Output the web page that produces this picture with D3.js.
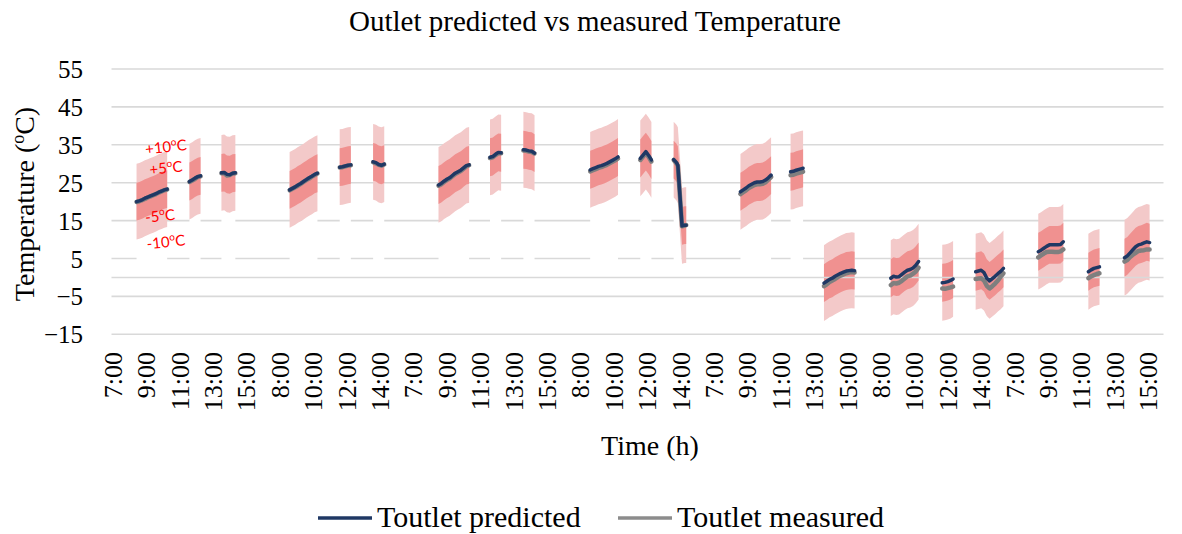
<!DOCTYPE html>
<html>
<head>
<meta charset="utf-8">
<script src="https://cdn.jsdelivr.net/npm/d3@7"></script>
<style>
  body { margin: 0; background: #fff; }
</style>
</head>
<body>
<svg id="chart" width="1182" height="534"></svg>
<script>
// Test sessions: day index (0-6) and sample times within that day
const sessionDay = [0, 0, 0, 1, 1, 1, 2, 2, 2, 3, 3, 3, 4, 4, 4, 5, 5, 5, 6, 6, 6];

const sessionTimes = [
  ["8:30","8:40","8:50","9:00","9:10","9:20","9:30","9:40","9:50","10:00","10:10","10:20"],
  ["11:40","11:50","12:00","12:10","12:20"],
  ["13:35","13:45","13:55","14:05","14:15","14:25"],
  ["8:40","8:50","9:00","9:10","9:20","9:30","9:40","9:50","10:00","10:10","10:20"],
  ["11:40","11:50","12:00","12:10","12:20"],
  ["13:40","13:50","14:00","14:10","14:20"],
  ["8:35","8:45","8:55","9:05","9:15","9:25","9:35","9:45","9:55","10:05","10:15","10:25"],
  ["11:40","11:50","12:00","12:10","12:20"],
  ["13:40","13:50","14:00","14:10","14:20"],
  ["8:40","8:50","9:00","9:10","9:20","9:30","9:40","9:50","10:00","10:10","10:20"],
  ["11:40","11:50","12:00","12:10","12:20"],
  ["13:40","13:50","13:55","14:10","14:20","14:25"],
  ["8:40","8:50","9:00","9:10","9:20","9:30","9:40","9:50","10:00","10:10","10:20","10:30"],
  ["11:40","11:50","12:00","12:10","12:20","12:25"],
  ["13:40","13:50","14:00","14:10","14:20","14:30","14:40","14:50","15:00","15:10","15:20","15:30"],
  ["8:40","8:50","9:00","9:10","9:20","9:30","9:40","9:50","10:00","10:10","10:20"],
  ["11:45","11:55","12:05","12:15","12:24"],
  ["13:45","13:55","14:05","14:15","14:25","14:35","14:45","14:55","15:05","15:15","15:25"],
  ["8:30","8:40","8:50","9:00","9:10","9:20","9:30","9:40","9:50","10:00"],
  ["11:30","11:40","11:50","12:00","12:10"],
  ["13:40","13:50","14:00","14:10","14:20","14:30","14:40","14:50","15:00","15:10"]
];

// Toutlet predicted (°C)
const predicted = [
  [20.0,20.2,20.5,20.9,21.2,21.5,21.8,22.1,22.5,22.8,23.1,23.3],
  [25.3,25.7,26.2,26.6,26.8],
  [27.6,27.7,27.2,27.1,27.5,27.6],
  [23.1,23.5,23.9,24.4,24.8,25.3,25.8,26.3,26.7,27.2,27.5],
  [29.1,29.2,29.4,29.6,29.7],
  [30.5,30.3,29.8,29.6,29.9],
  [24.4,24.8,25.4,25.9,26.3,26.9,27.5,27.9,28.3,28.9,29.5,29.7],
  [31.7,31.9,32.5,33.0,32.9],
  [33.7,33.6,33.4,33.3,32.8],
  [28.4,28.7,29.0,29.3,29.5,29.8,30.1,30.5,30.9,31.3,31.8],
  [31.4,32.3,33.2,32.2,31.0],
  [31.1,30.3,29.6,13.6,13.8,13.8],
  [22.6,23.1,23.6,24.2,24.6,25.0,25.2,25.2,25.3,25.7,26.3,27.0],
  [27.9,28.0,28.3,28.5,28.7,28.8],
  [-1.5,-1.0,-0.5,-0.2,0.3,0.7,1.1,1.4,1.7,1.8,1.9,1.8],
  [-0.2,0.3,0.1,0.2,0.8,1.4,1.9,2.1,2.5,3.2,4.2],
  [-1.4,-1.3,-1.1,-0.8,-0.4],
  [1.5,1.7,1.9,1.3,-0.2,-0.9,-0.3,0.3,1.0,1.6,2.4],
  [6.8,7.2,7.7,8.2,8.6,8.6,8.6,8.6,8.7,9.4],
  [1.5,2.0,2.4,2.6,2.8],
  [5.2,5.7,6.5,7.3,8.1,8.6,8.8,9.1,9.4,9.2]
];

// Toutlet measured (°C)
const measured = [
  [19.9,20.1,20.4,20.7,21.1,21.4,21.7,22.0,22.4,22.7,23.0,23.2],
  [25.2,25.6,26.0,26.5,26.7],
  [27.5,27.5,26.9,27.0,27.4,27.5],
  [23.0,23.4,23.8,24.2,24.7,25.2,25.7,26.1,26.6,27.0,27.4],
  [29.0,29.1,29.3,29.5,29.6],
  [30.4,30.1,29.7,29.5,29.8],
  [24.2,24.6,25.2,25.7,26.1,26.7,27.3,27.7,28.1,28.7,29.3,29.6],
  [31.5,31.7,32.3,32.8,32.8],
  [33.5,33.4,33.2,33.1,32.7],
  [28.0,28.3,28.6,28.9,29.1,29.4,29.7,30.1,30.5,30.9,31.4],
  [31.0,31.9,32.8,31.8,30.6],
  [31.0,30.1,29.4,13.5,13.7,13.8],
  [22.0,22.5,23.0,23.6,24.0,24.4,24.6,24.6,24.7,25.1,25.8,26.5],
  [27.0,27.1,27.4,27.6,27.8,27.9],
  [-2.3,-1.8,-1.2,-0.8,-0.4,0.1,0.5,0.8,1.1,1.3,1.4,1.3],
  [-2.0,-1.5,-1.6,-1.4,-0.9,-0.3,0.3,0.5,1.0,1.6,2.6],
  [-2.9,-3.0,-2.8,-2.6,-2.4],
  [-0.4,-0.3,-0.2,-0.8,-2.2,-2.9,-2.3,-1.6,-0.8,0.2,1.1],
  [5.3,5.8,6.3,6.7,6.8,6.8,6.7,6.7,6.9,7.4],
  [-0.2,0.3,0.6,0.9,1.1],
  [4.2,4.6,5.4,6.0,6.5,7.0,7.1,7.2,7.4,7.4]
];

// Category axis: one slot per hour, 7:00-15:00 each day, labelled every 2 hours
const tickLabels = ["7:00","9:00","11:00","13:00","15:00","8:00","10:00","12:00","14:00",
                    "7:00","9:00","11:00","13:00","15:00","8:00","10:00","12:00","14:00",
                    "7:00","9:00","11:00","13:00","15:00","8:00","10:00","12:00","14:00",
                    "7:00","9:00","11:00","13:00","15:00"];
const yTicks = [-15, -5, 5, 15, 25, 35, 45, 55];
const bandOffsets = [10, 5];          // tolerance bands around the prediction
const bandLabels = ["+10", "+5", "-5", "-10"];
const hoursPerDay = 9, dayStartHour = 7;

const SERIF = '"Liberation Serif", "Times New Roman", serif';
const svg = d3.select("#chart");
const x = d3.scaleLinear().domain([0, hoursPerDay * 7]).range([111.5, 1163.5]);
const y = d3.scaleLinear().domain([-15, 55]).range([334.3, 69]);

const slot = (day, t) => {
  const [h, m] = t.split(":").map(Number);
  return day * hoursPerDay + h + m / 60 - dayStartHour;
};

const sessions = sessionDay.map((d, i) => sessionTimes[i].map((t, j) => ({
  h: slot(d, t), p: predicted[i][j], m: measured[i][j]
})));

// Gridlines
svg.append("g").selectAll("line").data(yTicks).join("line")
  .attr("x1", x.range()[0]).attr("x2", x.range()[1])
  .attr("y1", d => y(d)).attr("y2", d => y(d))
  .attr("stroke", "#d9d9d9").attr("stroke-width", 1.6);

// Tolerance bands
const bands = svg.append("g");
const area = (lo, hi) => d3.area().x(d => x(d.h)).y0(lo).y1(hi);
sessions.forEach(s => {
  bands.append("path").datum(s)
    .attr("d", area(() => y(0), d => y(d.p - bandOffsets[0])))
    .attr("fill", "#fff");
  bands.append("path").datum(s)
    .attr("d", area(d => y(d.p - bandOffsets[0]), d => y(d.p + bandOffsets[0])))
    .attr("fill", "#f3c9c9");
  bands.append("path").datum(s)
    .attr("d", area(d => y(d.p - bandOffsets[1]), d => y(d.p + bandOffsets[1])))
    .attr("fill", "#f09190");
});

// Horizontal axis line at 0
svg.append("line")
  .attr("x1", x.range()[0]).attr("x2", x.range()[1])
  .attr("y1", y(0)).attr("y2", y(0))
  .attr("stroke", "#d9d9d9").attr("stroke-width", 1.6);

// Temperature lines
const lines = svg.append("g").attr("fill", "none")
  .attr("stroke-linecap", "round").attr("stroke-linejoin", "round");
sessions.forEach(s => {
  lines.append("path").datum(s)
    .attr("d", d3.line().x(d => x(d.h)).y(d => y(d.m)))
    .attr("stroke", "#7f7f7f").attr("stroke-width", 4.5);
});
sessions.forEach(s => {
  lines.append("path").datum(s)
    .attr("d", d3.line().x(d => x(d.h)).y(d => y(d.p)))
    .attr("stroke", "#1f3864").attr("stroke-width", 3.5);
});

// Y axis labels
const yAxis = svg.append("g").attr("transform", "translate(83,0)")
  .call(d3.axisLeft(y).tickValues(yTicks).tickSize(0).tickPadding(0));
yAxis.attr("font-family", SERIF).attr("font-size", 25);
yAxis.select(".domain").remove();
yAxis.selectAll("text").attr("fill", "#000").attr("dy", "0.34em");

// X axis labels (rotated)
const xAxis = svg.append("g").attr("transform", "translate(0,352)")
  .call(d3.axisBottom(x).tickValues(tickLabels.map((_, i) => i * 2))
    .tickFormat((_, i) => tickLabels[i]).tickSize(0).tickPadding(0));
xAxis.attr("font-family", SERIF).attr("font-size", 26);
xAxis.select(".domain").remove();
xAxis.selectAll("text")
  .attr("fill", "#000")
  .attr("text-anchor", "end")
  .attr("transform", "rotate(-90)")
  .attr("x", 0).attr("y", 1).attr("dy", "0.34em");

// Band labels
const bandLabelPos = [[166, 147], [166, 168], [160, 216], [166, 242]];
const bl = svg.append("g").attr("fill", "#ff0000")
  .attr("font-family", "Lato, 'Liberation Sans', sans-serif").attr("font-size", 15);
bandLabels.forEach((t, i) => {
  const txt = bl.append("text")
    .attr("transform", `translate(${bandLabelPos[i][0]},${bandLabelPos[i][1]}) rotate(-6)`)
    .attr("text-anchor", "middle").attr("dy", "0.35em");
  txt.append("tspan").text(t);
  txt.append("tspan").attr("font-size", 10).attr("baseline-shift", "super").text("o");
  txt.append("tspan").text("C");
});

// Title
svg.append("text").attr("x", 595).attr("y", 31).attr("text-anchor", "middle")
  .attr("font-family", SERIF).attr("font-size", 29).attr("fill", "#000")
  .text("Outlet predicted vs measured Temperature");

// Axis titles
const yt = svg.append("text").attr("transform", "translate(34,204) rotate(-90)")
  .attr("text-anchor", "middle").attr("font-family", SERIF).attr("font-size", 28).attr("fill", "#000");
yt.append("tspan").text("Temperature (");
yt.append("tspan").attr("font-size", 18).attr("baseline-shift", "super").text("o");
yt.append("tspan").text("C)");

svg.append("text").attr("x", 650).attr("y", 455).attr("text-anchor", "middle")
  .attr("font-family", SERIF).attr("font-size", 28).attr("fill", "#000").text("Time (h)");

// Legend
const legendItems = [
  { name: "Toutlet predicted", color: "#1f3864", x: 318 },
  { name: "Toutlet measured", color: "#8c8c8c", x: 618 }
];
const lg = svg.append("g").attr("font-family", SERIF).attr("font-size", 30).attr("fill", "#000");
legendItems.forEach(it => {
  lg.append("line").attr("x1", it.x).attr("x2", it.x + 54)
    .attr("y1", 518).attr("y2", 518).attr("stroke", it.color).attr("stroke-width", 3.5);
  lg.append("text").attr("x", it.x + 59).attr("y", 527).text(it.name);
});
</script>
</body>
</html>
